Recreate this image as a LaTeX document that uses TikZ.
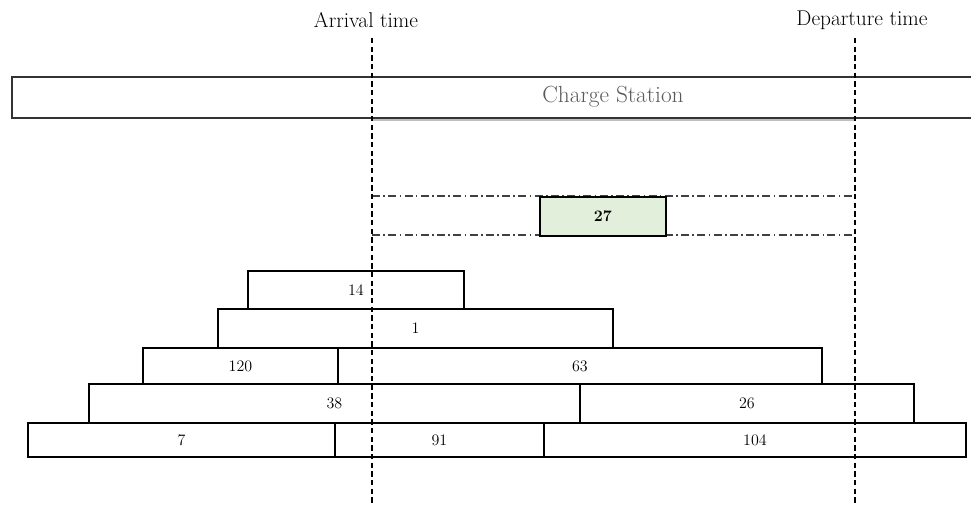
\documentclass[tikz,border=0pt]{standalone}
\usetikzlibrary{positioning}
\definecolor{cellgreen}{HTML}{E2EFDA}
\begin{document}
\begin{tikzpicture}[x=0.75pt,y=-0.75pt,
  cell/.style={draw=black, line width=1.4pt, fill=white, inner sep=0pt, anchor=north west, font=\fontsize{12}{14}\selectfont},
  timeline/.style={draw=black, line width=1.2pt, dash pattern=on 4pt off 2.5pt},
  window/.style={draw=black!75, line width=1.3pt, dash pattern=on 6pt off 2.5pt on 1.2pt off 2.5pt},
  toplabel/.style={font=\fontsize{16}{18}\selectfont, inner sep=0pt}]
\useasboundingbox (0,0) rectangle (971,506);

% charge station bar
\coordinate (csA) at (975,77);
\coordinate (csB) at (12,77);
\coordinate (csC) at (12,118);
\coordinate (csD) at (975,118);
\coordinate (shA) at (372,120);
\coordinate (shB) at (855,120);
\draw[black!25, line width=2pt] (shA) -- (shB);
\draw[line width=1.5pt, black!80] (csA) -- (csB) -- (csC) -- (csD);
\node[font=\fontsize{17.5}{20}\selectfont, text=black!65, inner sep=0pt] (cs) at (613,97) {Charge Station};

% dash-dot window
\coordinate (w1) at (372,196);
\coordinate (w2) at (855,196);
\coordinate (w3) at (372,235);
\coordinate (w4) at (855,235);
\draw[window] (w1) -- (w2);
\draw[window] (w3) -- (w4);
\node[cell, fill=cellgreen, minimum width=126*0.75pt, minimum height=39*0.75pt, font=\fontsize{12}{14}\selectfont\bfseries] (c27) at (539,196) {27};

% stacked cells
\node[cell, minimum width=216*0.75pt, minimum height=38*0.75pt] (c14) at (247,270) {14};
\node[cell, minimum width=395*0.75pt, minimum height=39*0.75pt] (c1) at (217,308) {1};
\node[cell, minimum width=195*0.75pt, minimum height=36*0.75pt] (c120) at (142,347) {120};
\node[cell, minimum width=484*0.75pt, minimum height=36*0.75pt] (c63) at (337,347) {63};
\node[cell, minimum width=491*0.75pt, minimum height=39*0.75pt] (c38) at (88,383) {38};
\node[cell, minimum width=334*0.75pt, minimum height=39*0.75pt] (c26) at (579,383) {26};
\node[cell, minimum width=307*0.75pt, minimum height=34*0.75pt] (c7) at (27,422) {7};
\node[cell, minimum width=209*0.75pt, minimum height=34*0.75pt] (c91) at (334,422) {91};
\node[cell, minimum width=422*0.75pt, minimum height=34*0.75pt] (c104) at (543,422) {104};

% time lines
\coordinate (arrTop) at (372,38);
\coordinate (arrBot) at (372,506);
\coordinate (depTop) at (855,38);
\coordinate (depBot) at (855,506);
\draw[timeline] (arrTop) -- (arrBot);
\draw[timeline] (depTop) -- (depBot);

\node[toplabel] (arr) at (366,20) {Arrival time};
\node[toplabel] (dep) at (862,20) {Departure time};
\end{tikzpicture}
\end{document}
